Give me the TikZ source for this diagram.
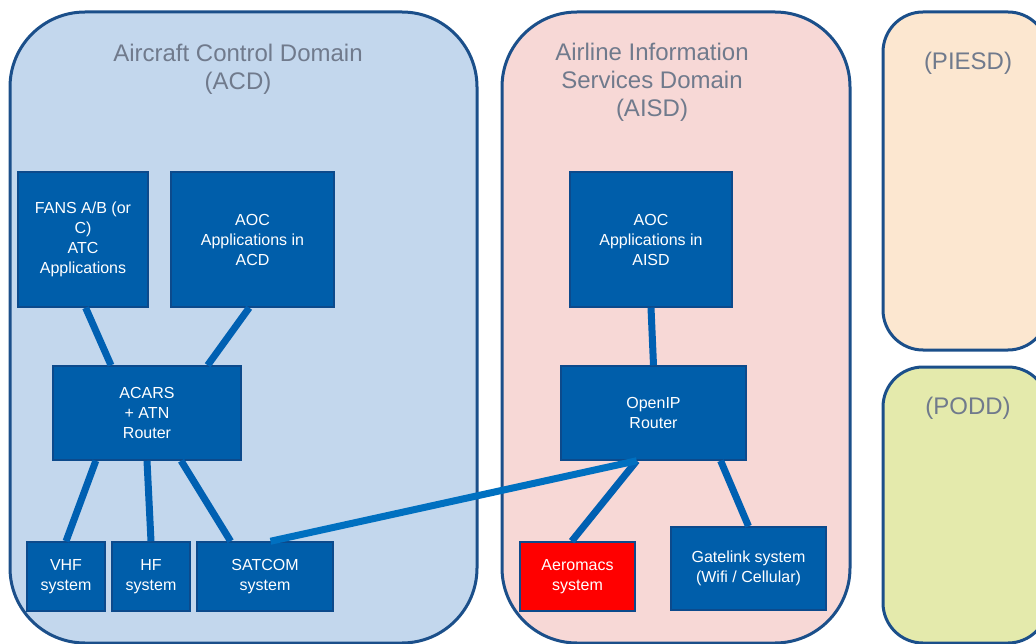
\documentclass[tikz,border=0pt]{standalone}
\usepackage{fontspec}
\setmainfont{Liberation Sans}
\usetikzlibrary{positioning,calc}
\tikzset{>=latex}
\definecolor{acdfill}{RGB}{195,215,237}
\definecolor{aisdfill}{RGB}{247,216,214}
\definecolor{piesdfill}{RGB}{252,231,208}
\definecolor{poddfill}{RGB}{228,234,172}
\definecolor{domline}{RGB}{27,79,138}
\definecolor{titlegray}{RGB}{112,122,140}
\definecolor{boxblue}{RGB}{0,94,170}
\definecolor{boxline}{RGB}{12,74,140}
\definecolor{linkblue}{RGB}{0,96,178}
\definecolor{satblue}{RGB}{0,112,192}

\begin{document}
\begin{tikzpicture}[x=1pt, y=-1pt,
	domainbox/.style={draw=domline, line width=3pt, rounded corners=75pt, inner sep=0pt},
	domtitle/.style={text=titlegray, align=center, font=\fontsize{24}{28}\selectfont},
	sysbox/.style={draw=boxline, line width=1.5pt, fill=boxblue, text=white, align=center, inner sep=0pt, font=\fontsize{16}{20}\selectfont},
	sysline/.style={draw=linkblue, line width=7pt}]
	\useasboundingbox (0,0) rectangle (1036,644);

	% domains
	\node[domainbox, fill=acdfill, minimum width=467, minimum height=631] (acd) at (243.5,327.5) {};
	\node[domainbox, fill=aisdfill, minimum width=348, minimum height=631] (aisd) at (676,327.5) {};
	\node[domainbox, fill=piesdfill, rounded corners=40pt, minimum width=165, minimum height=338] (piesd) at (965.5,181) {};
	\node[domainbox, fill=poddfill, rounded corners=40pt, minimum width=165, minimum height=276] (podd) at (965.5,505) {};

	\node[domtitle] (acdtitle) at (238,69) {Aircraft Control Domain\\(ACD)};
	\node[domtitle] (aisdtitle) at (652,82) {Airline Information\\Services Domain\\(AISD)};
	\node[domtitle] (piesdtitle) at (968,63) {(PIESD)};
	\node[domtitle] (poddtitle) at (968,408) {(PODD)};

	% ACD systems
	\node[sysbox, minimum width=130, minimum height=135] (fans) at (83,239.5) {FANS A/B (or\\C)\\ATC\\Applications};
	\node[sysbox, minimum width=163, minimum height=135] (aocacd) [right=21.5pt of fans] {AOC\\Applications in\\ACD};
	\node[sysbox, minimum width=188, minimum height=94] (acars) at (147,413) {ACARS\\+ ATN\\Router};
	\node[sysbox, minimum width=78, minimum height=69] (vhf) at (66,576.5) {VHF\\system};
	\node[sysbox, minimum width=78, minimum height=69] (hf) [right=5.5pt of vhf] {HF\\system};
	\node[sysbox, minimum width=136, minimum height=69] (satcom) [right=5.5pt of hf] {SATCOM\\system};

	% AISD systems
	\node[sysbox, minimum width=162, minimum height=135] (aocaisd) at (651,239.5) {AOC\\Applications in\\AISD};
	\node[sysbox, minimum width=185, minimum height=94] (openip) at (653.5,413) {OpenIP\\Router};
	\node[sysbox, fill=red, minimum width=115, minimum height=69] (aeromacs) at (577.5,576.5) {Aeromacs\\system};
	\node[sysbox, minimum width=155, minimum height=83] (gatelink) at (748.5,568.5) {Gatelink system\\(Wifi / Cellular)};

	% links
	\draw[sysline] ($(fans.south west)!0.52!(fans.south east)$) -- ($(acars.north west)!0.31!(acars.north east)$);
	\draw[sysline] ($(aocacd.south west)!0.48!(aocacd.south east)$) -- ($(acars.north west)!0.82!(acars.north east)$);
	\draw[sysline] ($(acars.south west)!0.23!(acars.south east)$) -- (vhf.north);
	\draw[sysline] (acars.south) -- (hf.north);
	\draw[sysline] ($(acars.south west)!0.68!(acars.south east)$) -- ($(satcom.north west)!0.25!(satcom.north east)$);
	\draw[sysline] (aocaisd.south) -- (openip.north);
	\draw[sysline] ($(openip.south west)!0.41!(openip.south east)$) -- ($(aeromacs.north west)!0.45!(aeromacs.north east)$);
	\draw[sysline] ($(openip.south west)!0.86!(openip.south east)$) -- (gatelink.north);
	\draw[sysline, draw=satblue] ($(satcom.north west)!0.54!(satcom.north east)$) -- ($(openip.south west)!0.41!(openip.south east)$);
\end{tikzpicture}
\end{document}
